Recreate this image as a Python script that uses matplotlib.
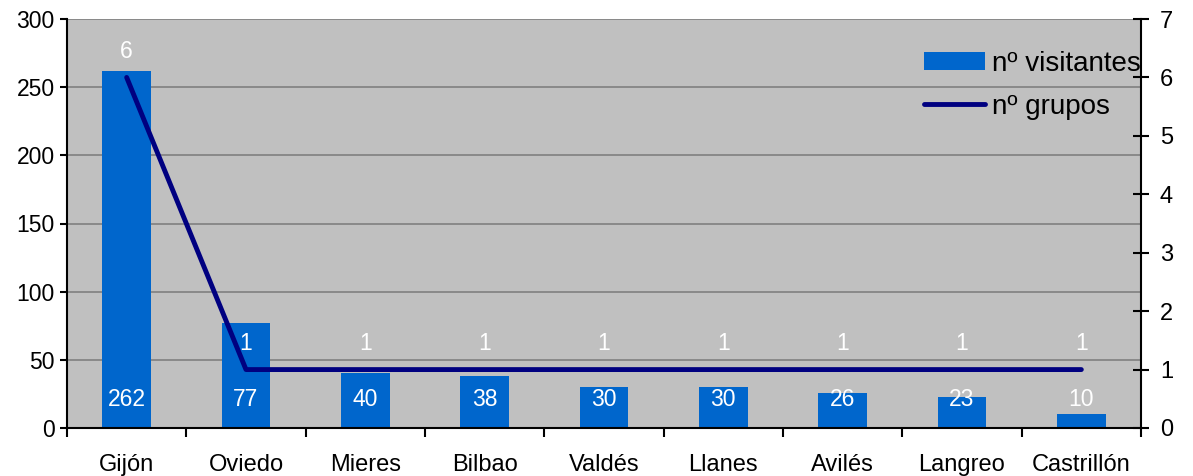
import matplotlib
matplotlib.use("Agg")
import matplotlib.pyplot as plt
import numpy as np

categories = ["Gijón", "Oviedo", "Mieres", "Bilbao", "Valdés", "Llanes", "Avilés", "Langreo", "Castrillón"]
visitantes = [262, 77, 40, 38, 30, 30, 26, 23, 10]
grupos = [6, 1, 1, 1, 1, 1, 1, 1, 1]
left_ticks = [0, 50, 100, 150, 200, 250, 300]
right_ticks = [0, 1, 2, 3, 4, 5, 6, 7]

plt.rcParams['font.family'] = ['Liberation Sans', 'DejaVu Sans']

fig = plt.figure(figsize=(11.93, 4.76), dpi=100)
ax = fig.add_axes([67/1193, 1-428/476, (1141-67)/1193, (428-19)/476])
ax.set_facecolor('#C0C0C0')
x = np.arange(len(categories))
ax.bar(x, visitantes, width=0.41, color='#0066CC', zorder=2, label='nº visitantes')
ax.set_xlim(-0.5, len(categories)-0.5)
ax.set_ylim(0, 300)
ax.set_yticks(left_ticks)
ax.yaxis.grid(True, color='#808080', linewidth=1.2, zorder=1)
ax.set_axisbelow(True)
ax.set_xticks(x)
ax.set_xticklabels(categories, fontsize=17)
ax.set_xticks(np.arange(-0.5, len(categories)+0.5, 1), minor=True)
ax.tick_params(axis='x', which='major', length=0, pad=19)
ax.tick_params(axis='x', which='minor', length=6.5, width=1.5, direction='out')
ax.tick_params(axis='y', length=5, width=1.5, direction='out', labelsize=16.5, pad=4)
for s in ['top', 'right']:
    ax.spines[s].set_visible(False)
for s in ['left', 'bottom']:
    ax.spines[s].set_linewidth(1.5)

for xi, v in zip(x, visitantes):
    ax.annotate(str(v), (xi, 0), xytext=(0, 20.5), textcoords='offset points',
                ha='center', va='center', color='white', fontsize=16.5, zorder=5)

ax2 = ax.twinx()
ax2.set_ylim(0, 7)
ax2.set_yticks(right_ticks)
ax2.plot(x, grupos, color='#000080', linewidth=3.5, solid_capstyle='round',
         solid_joinstyle='round', zorder=4, label='nº grupos')
for s in ['top', 'left', 'bottom']:
    ax2.spines[s].set_visible(False)
ax2.spines['right'].set_linewidth(1.5)
ax2.tick_params(axis='y', length=11, width=1.5, direction='inout', labelsize=17, pad=8)
for xi, g in zip(x, grupos):
    ax2.annotate(str(g), (xi, g), xytext=(0, 19), textcoords='offset points',
                 ha='center', va='center', color='white', fontsize=16.5, zorder=5)

h1, l1 = ax.get_legend_handles_labels()
h2, l2 = ax2.get_legend_handles_labels()
leg = ax2.legend(h1 + h2, l1 + l2, loc='upper right', bbox_to_anchor=(1.0, 0.922),
                 frameon=False, fontsize=20, handlelength=2.2, handleheight=0.65,
                 handletextpad=0.25, labelspacing=0.6, borderaxespad=0, borderpad=0)

fig.savefig('out.png', dpi=100)
